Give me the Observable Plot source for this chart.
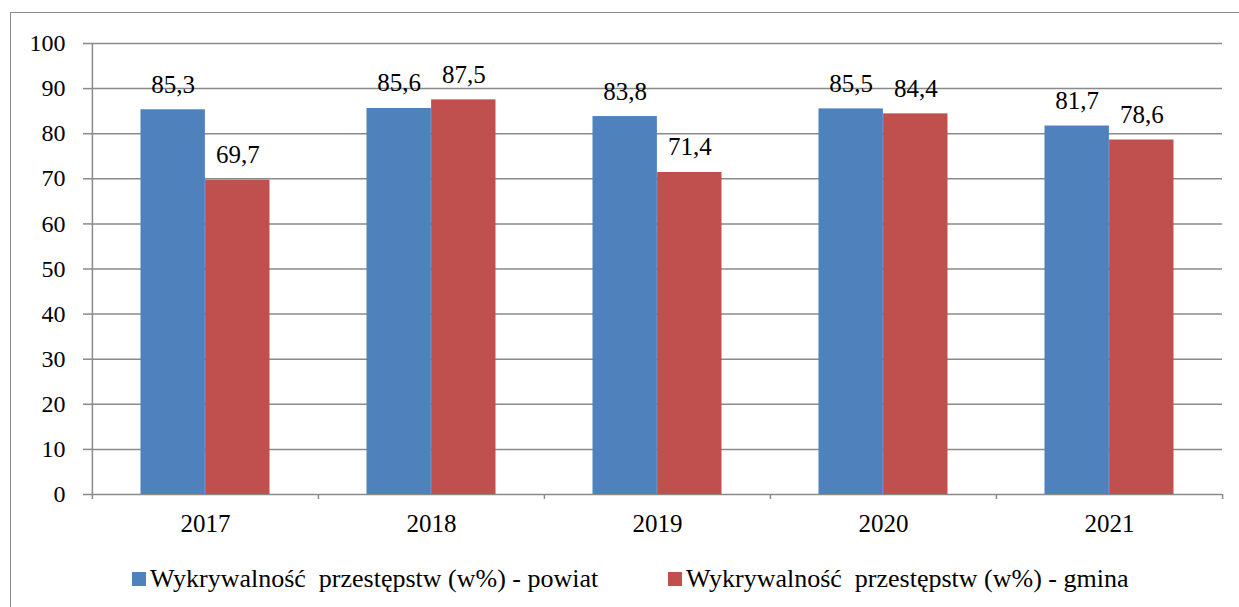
<!DOCTYPE html>
<html>
<head>
<meta charset="utf-8">
<script src="https://cdn.jsdelivr.net/npm/d3@7"></script>
<script src="https://cdn.jsdelivr.net/npm/@observablehq/plot@0.6"></script>
<style>
  html, body { margin: 0; padding: 0; background: #fff; }
  #wrap { position: relative; width: 1239px; height: 607px; overflow: hidden; }
  #border { position: absolute; left: 10px; top: 12px; width: 1260px; height: 640px; border: 1.5px solid #8a8a8a; box-sizing: border-box; }
  #chart { position: absolute; left: 0; top: 0; }
  #legend { position: absolute; top: 564px; left: 0; width: 1239px; height: 30px; color: #000; white-space: pre; }
  .item { position: absolute; top: 0; height: 30px; display: flex; align-items: center; line-height: 30px; font-size: 26px; }
  .sw { width: 14px; height: 14px; margin-right: 4px; flex: none; }
</style>
</head>
<body>
<div id="wrap">
  <div id="border"></div>
  <div id="chart"></div>
  <div id="legend"></div>
</div>
<script>
const years = ["2017", "2018", "2019", "2020", "2021"];
const powiat = [85.3, 85.6, 83.8, 85.5, 81.7];
const gmina = [69.7, 87.5, 71.4, 84.4, 78.6];
const yTicks = [0, 10, 20, 30, 40, 50, 60, 70, 80, 90, 100];
const seriesNames = ["Wykrywalność  przestępstw (w%) - powiat", "Wykrywalność  przestępstw (w%) - gmina"];
const colors = ["#4f81bd", "#c0504d"];

const serif = "Liberation Serif";
const dataP = years.map((y, i) => ({year: y, value: powiat[i]}));
const dataG = years.map((y, i) => ({year: y, value: gmina[i]}));
const fmt = d => d.value.toFixed(1).replace(".", ",");

const W = 1239, H = 550, mL = 91, mR = 17, mT = 43, mB = 56;
const band = (W - mL - mR) / years.length;
const half = band / 2;
const barW = 64.6;
const gridColor = "#8a8a8a";

const chart = Plot.plot({
  width: W,
  height: H,
  marginLeft: mL,
  marginRight: mR,
  marginTop: mT,
  marginBottom: mB,
  style: {fontFamily: serif, fontSize: "24px", color: "#000", background: "transparent"},
  x: {domain: years, padding: 0, axis: null},
  y: {domain: [0, 100], axis: null},
  marks: [
    Plot.gridY(yTicks, {stroke: gridColor, strokeOpacity: 1, strokeWidth: 1.5}),
    Plot.axisY({ticks: yTicks, tickSize: 8, tickPadding: 18, stroke: gridColor, strokeWidth: 1.5, strokeOpacity: 1, label: null, fill: "#000", fontFamily: serif, fontSize: 24}),
    Plot.axisX({tickSize: 0, tickPadding: 20, label: null, fill: "#000", fontFamily: serif, fontSize: 25}),
    Plot.barY(dataP, {x: "year", y: "value", fill: colors[0], insetLeft: half - barW, insetRight: half}),
    Plot.barY(dataG, {x: "year", y: "value", fill: colors[1], insetLeft: half, insetRight: half - barW}),
    Plot.ruleX([years[0]], {x: d => d, dx: -half, y1: -1.1, y2: 100, stroke: gridColor, strokeWidth: 1.5}),
    Plot.ruleX(years.slice(1), {x: d => d, dx: -half, y1: -1.1, y2: 0, stroke: gridColor, strokeWidth: 1.5}),
    Plot.ruleX([years[years.length - 1]], {x: d => d, dx: half, y1: -1.1, y2: 0, stroke: gridColor, strokeWidth: 1.5}),
    Plot.text(dataP, {x: "year", y: "value", text: fmt, dx: -barW / 2, dy: -17, lineAnchor: "bottom", fill: "#000", fontFamily: serif, fontSize: 25}),
    Plot.text(dataG, {x: "year", y: "value", text: fmt, dx: barW / 2, dy: -17, lineAnchor: "bottom", fill: "#000", fontFamily: serif, fontSize: 25})
  ]
});
document.getElementById("chart").appendChild(chart);

const legend = document.getElementById("legend");
const lefts = [132, 668];
seriesNames.forEach((name, i) => {
  const item = document.createElement("div");
  item.className = "item";
  item.style.left = lefts[i] + "px";
  item.style.fontFamily = `"${serif}", serif`;
  const sw = document.createElement("span");
  sw.className = "sw";
  sw.style.background = colors[i];
  const t = document.createElement("span");
  t.textContent = name;
  item.appendChild(sw);
  item.appendChild(t);
  legend.appendChild(item);
});
</script>
</body>
</html>
